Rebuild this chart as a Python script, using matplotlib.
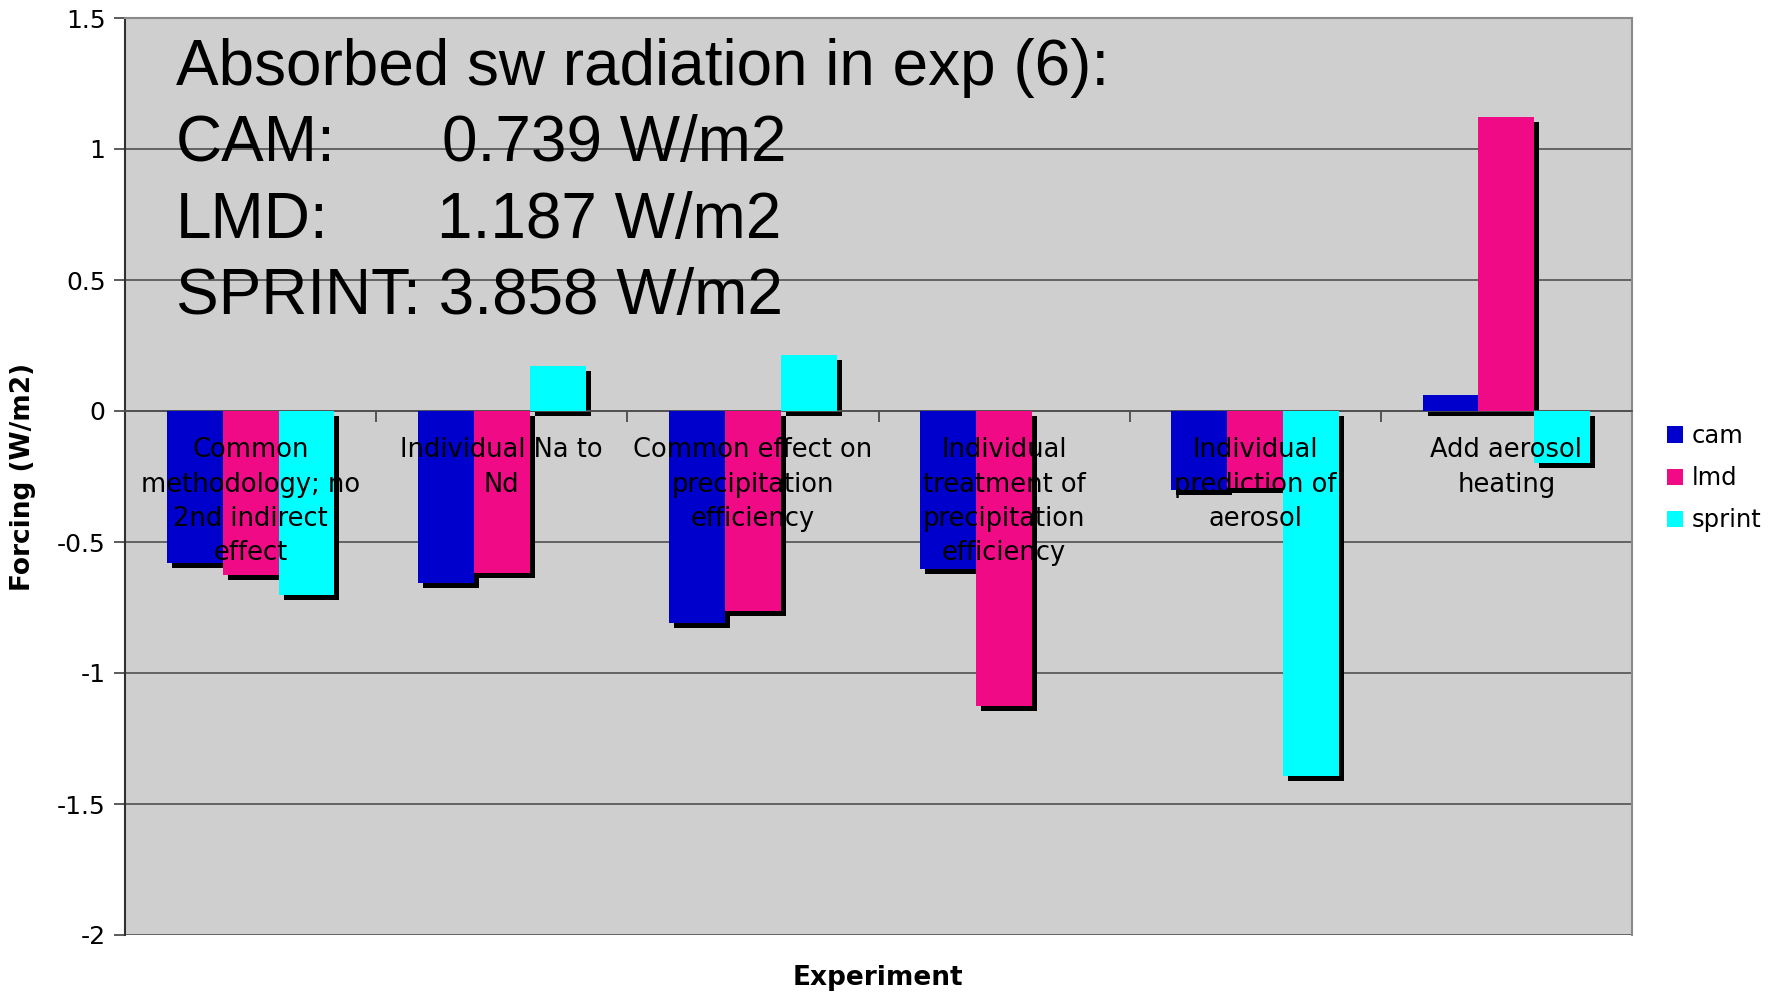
import matplotlib
matplotlib.use("Agg")
import matplotlib.pyplot as plt
import matplotlib.transforms as mtransforms
from matplotlib.patches import Patch
from matplotlib.ticker import FixedLocator, FuncFormatter
import numpy as np

plt.rcParams['axes.unicode_minus'] = False
plt.rcParams['font.family'] = ['DejaVu Sans']

categories = [
    "Common\nmethodology; no\n2nd indirect\neffect",
    "Individual Na to\nNd",
    "Common effect on\nprecipitation\nefficiency",
    "Individual\ntreatment of\nprecipitation\nefficiency",
    "Individual\nprediction of\naerosol",
    "Add aerosol\nheating",
]
series_names = ["cam", "lmd", "sprint"]
cam = [-0.58, -0.657, -0.81, -0.604, -0.303, 0.061]
lmd = [-0.626, -0.62, -0.765, -1.126, -0.295, 1.122]
sprint = [-0.702, 0.17, 0.213, 0.0, -1.394, -0.197]
colors = ["#0000CC", "#F10A85", "#00FFFF"]
yticks = [1.5, 1, 0.5, 0, -0.5, -1, -1.5, -2]

W, H = 1779, 992
fig = plt.figure(figsize=(W / 100, H / 100), dpi=100)
ax = fig.add_axes([125 / W, 1 - 935 / H, (1632 - 125) / W, (935 - 18) / H])
ax.set_facecolor("#cfcfcf")

n = len(categories)
x = np.arange(n)
bw = 0.667 / 3
shadow = mtransforms.ScaledTranslation(5 / 100, -5 / 100, fig.dpi_scale_trans)
data_series = [cam, lmd, sprint]
for k, vals in enumerate(data_series):
    pos = x + (k - 1) * bw
    ax.bar(pos, vals, width=bw, color="black", zorder=2,
           transform=ax.transData + shadow)
for k, vals in enumerate(data_series):
    pos = x + (k - 1) * bw
    ax.bar(pos, vals, width=bw, color=colors[k], zorder=3, label=series_names[k])

ax.set_xlim(-0.5, n - 0.5)
ax.set_ylim(-2, 1.5)
ax.yaxis.set_major_locator(FixedLocator(yticks))
ax.yaxis.set_major_formatter(FuncFormatter(lambda v, p: f"{v:g}"))
ax.grid(axis="y", color="#5a5a5a", linewidth=1.3, zorder=1)
ax.set_axisbelow(True)
ax.tick_params(axis="y", labelsize=18, length=8, width=1.2, color="#404040", pad=6)

ax.spines["bottom"].set_position(("data", 0))
ax.spines["bottom"].set_color("#505050")
ax.spines["bottom"].set_linewidth(1.3)
ax.spines["bottom"].set_zorder(2.5)
ax.spines["left"].set_color("#303030")
ax.spines["left"].set_linewidth(1.5)
for s in ["top", "right"]:
    ax.spines[s].set_color("#8a8a8a")
    ax.spines[s].set_linewidth(1.5)
ax.xaxis.set_major_locator(FixedLocator(np.arange(n + 1) - 0.5))
ax.tick_params(axis="x", labelbottom=False, length=8, width=1.2, color="#404040",
               direction="out")

for i, lab in enumerate(categories):
    ax.text(i, -0.1, lab, ha="center", va="top", fontsize=18.5, linespacing=1.42,
            zorder=5)

ax.set_ylabel("Forcing (W/m2)", fontsize=19, fontweight="bold")
ax.yaxis.set_label_coords((36 - 125) / (1632 - 125), 0.5)
fig.text(878 / W, 1 - 978 / H, "Experiment", fontsize=19, fontweight="bold",
         ha="center", va="center")

big = dict(fontsize=46, family="Liberation Sans", ha="left", va="baseline")
fig.text(176 / W, 1 - 85 / H, "Absorbed sw radiation in exp (6):", **big)
fig.text(176 / W, 1 - 161 / H, "CAM:", **big)
fig.text(442 / W, 1 - 161 / H, "0.739 W/m2", **big)
fig.text(176 / W, 1 - 238 / H, "LMD:", **big)
fig.text(437 / W, 1 - 238 / H, "1.187 W/m2", **big)
fig.text(176 / W, 1 - 314 / H, "SPRINT: 3.858 W/m2", **big)

handles = [Patch(facecolor=c, edgecolor="none") for c in colors]
fig.legend(handles, series_names, loc="upper left",
           bbox_to_anchor=(1667 / W, 1 - 424 / H), frameon=False, fontsize=17.5,
           handlelength=0.65, handleheight=0.65, handletextpad=0.35,
           labelspacing=0.75, borderpad=0, borderaxespad=0)

fig.savefig("out.png", dpi=100)
